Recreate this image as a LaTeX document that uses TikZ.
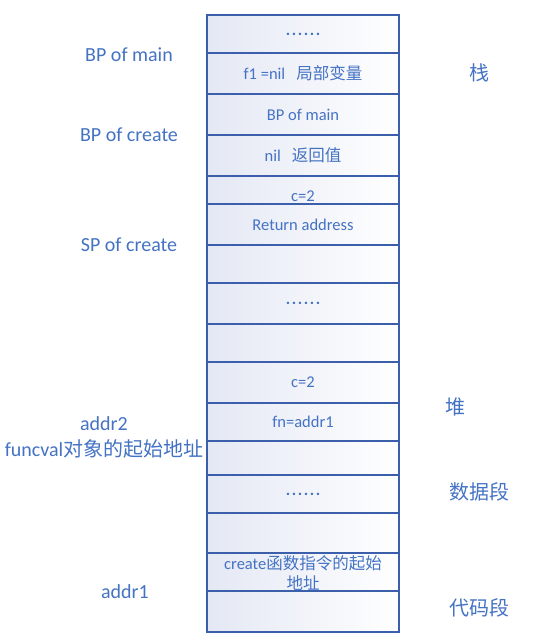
\documentclass[tikz,border=0pt]{standalone}
\usepackage{fontspec}
\setmainfont{Carlito}
\newfontfamily\cjk{Noto Sans CJK SC}
\definecolor{txtblue}{RGB}{68,114,196}
\definecolor{lineblue}{RGB}{60,95,172}
\definecolor{cellleft}{RGB}{228,232,244}
\newcommand{\sixdots}{{\bfseries .\hspace{1.6pt}.\hspace{1.6pt}.\hspace{1.6pt}.\hspace{1.6pt}.\hspace{1.6pt}.}}
\tikzset{
  cell/.style={draw=lineblue, line width=1.3pt, left color=cellleft, right color=white,
    minimum width=192pt, inner sep=0pt, text=txtblue, font=\fontsize{16.5}{20}\selectfont,
    align=center},
  lbl/.style={text=txtblue, inner sep=0pt, font=\fontsize{20}{26}\selectfont, align=center},
}
\begin{document}
\begin{tikzpicture}[x=1pt,y=-1pt]
\useasboundingbox (0,0) rectangle (539,643);
\node[cell, minimum height=38] (c1)  at (303,34)    {\sixdots};
\node[cell, minimum height=41] (c2)  at (303,73.5)  {f1 =nil\hspace{11pt}{\cjk 局部变量}};
\node[cell, minimum height=41] (c3)  at (303,114.5) {BP of main};
\node[cell, minimum height=41] (c4)  at (303,155.5) {nil\hspace{11pt}{\cjk 返回值}};
\node[cell, minimum height=28] (c5)  at (303,190)   {\raisebox{-6.5pt}[\height][\depth]{c=2}};
\node[cell, minimum height=41] (c6)  at (303,224.5) {Return address};
\node[cell, minimum height=38] (c7)  at (303,264)   {};
\node[cell, minimum height=41] (c8)  at (303,303.5) {\sixdots};
\node[cell, minimum height=38] (c9)  at (303,343)   {};
\node[cell, minimum height=41] (c10) at (303,382.5) {c=2};
\node[cell, minimum height=38] (c11) at (303,422)   {fn=addr1};
\node[cell, minimum height=34] (c12) at (303,458)   {};
\node[cell, minimum height=38] (c13) at (303,494)   {\sixdots};
\node[cell, minimum height=40] (c14) at (303,533)   {};
\node[cell, minimum height=38] (c15) at (303,572)   {\raisebox{-1pt}[\height][\depth]{create{\cjk 函数指令的起始}}\\[1pt]{\cjk 地址}};
\node[cell, minimum height=41] (c16) at (303,611.5) {};

\node[lbl] (bpmain)   at (129,55)  {BP of main};
\node[lbl] (bpcreate) at (129,135) {BP of create};
\node[lbl] (spcreate) at (129,245) {SP of create};
\node[lbl] (addr2)    at (104,437) {addr2\\funcval{\cjk 对象的起始地址}};
\node[lbl] (addr1)    at (125,592) {addr1};

\node[lbl] (stack) at (479,73)  {\cjk 栈};
\node[lbl] (heap)  at (455,407) {\cjk 堆};
\node[lbl] (data)  at (479,492) {\cjk 数据段};
\node[lbl] (code)  at (479,608) {\cjk 代码段};
\end{tikzpicture}
\end{document}
